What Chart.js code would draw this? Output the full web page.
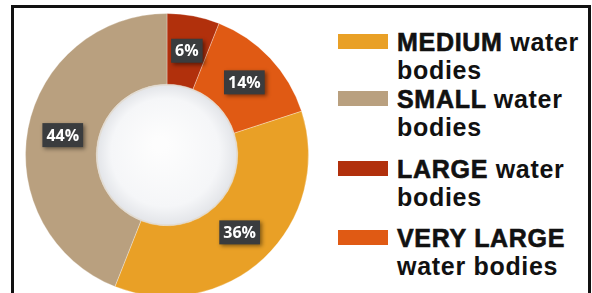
<!DOCTYPE html>
<html>
<head>
<meta charset="utf-8">
<script src="https://cdn.jsdelivr.net/npm/chart.js@4"></script>
<style>
    body {
        margin: 0;
        width: 592px;
        height: 293px;
        overflow: hidden;
        background: #fff;
        position: relative;
        font-family: "Liberation Sans", Arial, sans-serif;
    }
    #frame {
        position: absolute;
        left: 11px;
        top: 5px;
        width: 574px;
        height: 400px;
        border: 3px solid #111;
    }
    #chartBox {
        position: absolute;
        left: 25px;
        top: 13px;
        width: 284px;
        height: 284px;
    }
    #legend {
        position: absolute;
        left: 0;
        top: 0;
    }
    .legend-item {
        position: absolute;
        left: 338px;
        width: 254px;
    }
    .legend-item .swatch {
        position: absolute;
        left: 0;
        top: 6px;
        width: 50px;
        height: 15px;
    }
    .legend-item .text {
        position: absolute;
        left: 59px;
        width: 194px;
        font-size: 25px;
        font-weight: bold;
        line-height: 28px;
        letter-spacing: 0.7px;
        color: #111;
    }
    .legend-item .text .big {
        -webkit-text-stroke: 0.6px #111;
    }
    .legend-item:nth-child(1) { top: 28px; }
    .legend-item:nth-child(2) { top: 85px; }
    .legend-item:nth-child(3) { top: 155px; }
    .legend-item:nth-child(4) { top: 224px; }
</style>
</head>
<body>
<div id="frame"></div>
<div id="chartBox"><canvas id="sizeChart"></canvas></div>
<div id="legend"></div>

<script>
// slices in drawing order, clockwise from 12 o'clock
const categories = ['LARGE', 'VERY LARGE', 'MEDIUM', 'SMALL'];
const shares = [6, 14, 36, 44];
const sliceColors = ['#b1300c', '#e05a14', '#e9a026', '#b9a07f'];
const legendOrder = ['MEDIUM', 'SMALL', 'LARGE', 'VERY LARGE'];
const suffix = 'water bodies';

// light "ball" in the hole
const centerDisc = {
    id: 'centerDisc',
    afterDatasetsDraw(chart) {
        const arc = chart.getDatasetMeta(0).data[0];
        if (!arc) return;
        const ctx = chart.ctx;
        const r = arc.innerRadius;
        const x = arc.x, y = arc.y;
        ctx.save();
        ctx.beginPath();
        ctx.arc(x, y, r, 0, Math.PI * 2);
        ctx.fillStyle = 'rgba(160,140,110,0.3)';
        ctx.fill();
        const g = ctx.createRadialGradient(x - r * 0.1, y - r * 0.15, r * 0.1, x, y, r - 1);
        g.addColorStop(0, '#fdfdfd');
        g.addColorStop(0.75, '#f5f6f8');
        g.addColorStop(1, '#e3e5e9');
        ctx.beginPath();
        ctx.arc(x, y, r - 1.5, 0, Math.PI * 2);
        ctx.fillStyle = g;
        ctx.fill();
        ctx.restore();
    }
};

// dark boxes with percentages
const valueBoxes = {
    id: 'valueBoxes',
    afterDatasetsDraw(chart) {
        const ctx = chart.ctx;
        const values = chart.data.datasets[0].data;
        chart.getDatasetMeta(0).data.forEach((arc, i) => {
            const pos = arc.tooltipPosition();
            const txt = values[i] + '%';
            ctx.save();
            ctx.font = 'bold 16px "Open Sans", sans-serif';
            const w = ctx.measureText(txt).width + 8;
            const h = 24;
            ctx.shadowColor = 'rgba(0,0,0,0.45)';
            ctx.shadowBlur = 4;
            ctx.shadowOffsetX = 2;
            ctx.shadowOffsetY = 2;
            ctx.fillStyle = '#3a3c3e';
            ctx.fillRect(pos.x - w / 2, pos.y - h / 2, w, h);
            ctx.shadowColor = 'transparent';
            ctx.fillStyle = '#ffffff';
            ctx.textAlign = 'center';
            ctx.textBaseline = 'middle';
            ctx.fillText(txt, pos.x, pos.y + 1);
            ctx.restore();
        });
    }
};

function buildLegend() {
    const box = document.getElementById('legend');
    legendOrder.forEach(name => {
        const i = categories.indexOf(name);
        const item = document.createElement('div');
        item.classList.add('legend-item');
        item.innerHTML = `
            <div class="swatch" style="background:${sliceColors[i]}"></div>
            <div class="text"><span class="big">${name}</span> ${suffix}</div>
        `;
        box.appendChild(item);
    });
}

let chart;

function renderChart() {
    const ctx = document.getElementById('sizeChart').getContext('2d');
    chart = new Chart(ctx, {
        type: 'doughnut',
        data: {
            labels: categories,
            datasets: [{
                data: shares,
                backgroundColor: sliceColors,
                borderColor: 'rgba(255,255,255,0.3)',
                borderWidth: 1
            }]
        },
        options: {
            responsive: true,
            maintainAspectRatio: false,
            animation: false,
            cutout: '50%',
            layout: { padding: 0 },
            plugins: {
                legend: { display: false },
                tooltip: { enabled: false }
            }
        },
        plugins: [centerDisc, valueBoxes]
    });
}

document.addEventListener('DOMContentLoaded', () => {
    buildLegend();
    renderChart();
});
</script>
</body>
</html>
